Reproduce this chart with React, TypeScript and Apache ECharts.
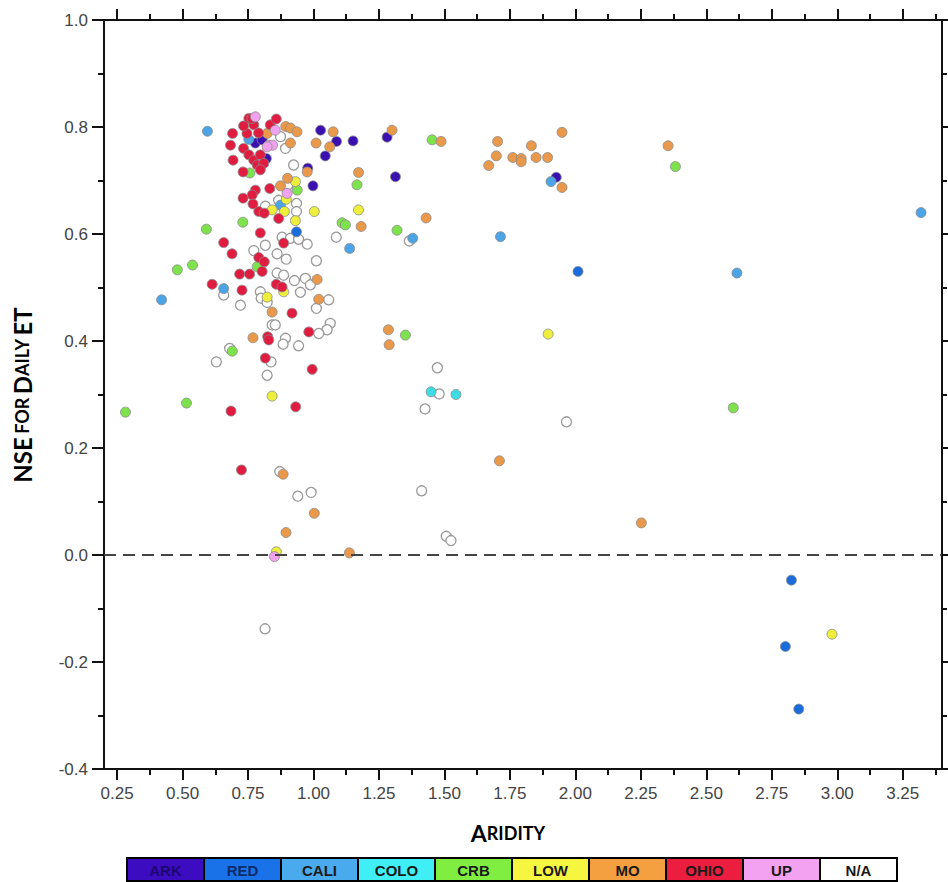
import React, { useEffect, useRef } from "react";
import * as echarts from "echarts";

const regions = ["ARK", "RED", "CALI", "COLO", "CRB", "LOW", "MO", "OHIO", "UP", "N/A"];
const regionColors = ["#3c0cc0", "#1a72e8", "#4aaaee", "#40eef6", "#80ee40", "#f6f640", "#f5a040", "#ec1e40", "#f2a2f0", "#ffffff"];
const pointColors = ["#3a10b0", "#1a6cdc", "#4aa4e6", "#40dce6", "#7ee24c", "#eeee3c", "#ea984a", "#e01c40", "#f0a2ee", "#ffffff"];

const xMajorTicks = [0.25, 0.5, 0.75, 1.0, 1.25, 1.5, 1.75, 2.0, 2.25, 2.5, 2.75, 3.0, 3.25];
const xMinorTicks = [0.375, 0.625, 0.875, 1.125, 1.375, 1.625, 1.875, 2.125, 2.375, 2.625, 2.875, 3.125, 3.375];

const arkData = [[1.027, 0.794], [1.088, 0.773], [1.151, 0.774], [1.045, 0.746], [0.978, 0.723], [0.998, 0.69], [1.281, 0.781], [1.313, 0.707], [1.927, 0.706], [0.778, 0.77], [0.804, 0.776], [0.82, 0.741]];
const redData = [[0.935, 0.604], [2.01, 0.53], [2.825, -0.047], [2.802, -0.171], [2.853, -0.288]];
const caliData = [[0.42, 0.477], [0.595, 0.792], [0.657, 0.498], [0.753, 0.777], [0.874, 0.654], [1.138, 0.573], [1.379, 0.592], [1.714, 0.595], [1.907, 0.698], [2.617, 0.527], [3.32, 0.64]];
const coloData = [[1.449, 0.305], [1.544, 0.3]];
const crbData = [[0.282, 0.267], [0.48, 0.533], [0.538, 0.542], [0.515, 0.284], [0.591, 0.609], [0.69, 0.381], [0.73, 0.622], [0.785, 0.539], [0.757, 0.714], [0.938, 0.682], [1.109, 0.621], [1.122, 0.617], [1.166, 0.692], [1.319, 0.607], [1.351, 0.411], [1.453, 0.776], [2.382, 0.726], [2.603, 0.275]];
const lowData = [[0.931, 0.698], [0.896, 0.665], [0.842, 0.645], [0.889, 0.642], [1.003, 0.642], [1.172, 0.645], [0.931, 0.625], [0.823, 0.482], [0.886, 0.492], [0.842, 0.297], [0.858, 0.006], [1.896, 0.413], [2.98, -0.148]];
const moData = [[0.894, 0.801], [0.912, 0.798], [0.937, 0.791], [0.912, 0.77], [0.823, 0.788], [1.075, 0.791], [1.01, 0.77], [1.062, 0.763], [0.976, 0.716], [1.172, 0.715], [0.901, 0.704], [0.874, 0.69], [1.182, 0.614], [1.3, 0.794], [1.43, 0.63], [1.487, 0.773], [1.703, 0.773], [1.698, 0.746], [1.669, 0.728], [1.761, 0.743], [1.793, 0.741], [1.793, 0.735], [1.832, 0.765], [1.85, 0.743], [1.894, 0.743], [1.949, 0.79], [1.949, 0.687], [2.354, 0.765], [1.71, 0.176], [2.252, 0.06], [0.884, 0.151], [1.003, 0.078], [0.895, 0.042], [1.137, 0.004], [1.286, 0.421], [1.289, 0.393], [1.014, 0.515], [1.02, 0.478], [0.842, 0.454], [0.769, 0.406]];
const ohioData = [[0.691, 0.788], [0.683, 0.766], [0.693, 0.738], [0.753, 0.816], [0.772, 0.804], [0.79, 0.789], [0.835, 0.804], [0.858, 0.815], [0.746, 0.788], [0.733, 0.76], [0.753, 0.748], [0.772, 0.738], [0.797, 0.748], [0.785, 0.729], [0.81, 0.732], [0.797, 0.72], [0.731, 0.716], [0.733, 0.802], [0.765, 0.816], [0.833, 0.685], [0.778, 0.682], [0.766, 0.673], [0.731, 0.667], [0.769, 0.656], [0.791, 0.642], [0.812, 0.639], [0.867, 0.629], [0.797, 0.602], [0.886, 0.583], [0.657, 0.584], [0.689, 0.563], [0.791, 0.556], [0.812, 0.548], [0.804, 0.53], [0.718, 0.525], [0.756, 0.525], [0.613, 0.506], [0.727, 0.495], [0.858, 0.506], [0.88, 0.501], [0.918, 0.452], [0.982, 0.417], [0.825, 0.408], [0.829, 0.402], [0.816, 0.368], [0.995, 0.347], [0.685, 0.269], [0.932, 0.277], [0.725, 0.159]];
const upData = [[0.778, 0.819], [0.854, 0.794], [0.829, 0.766], [0.844, 0.766], [0.823, 0.763], [0.899, 0.676], [0.851, -0.003]];
const naData = [[0.874, 0.782], [0.893, 0.76], [0.924, 0.729], [0.903, 0.692], [0.867, 0.663], [0.935, 0.657], [0.935, 0.642], [0.816, 0.652], [1.087, 0.594], [0.88, 0.594], [0.912, 0.592], [0.943, 0.59], [0.976, 0.581], [0.816, 0.579], [0.772, 0.569], [0.861, 0.563], [0.896, 0.553], [1.011, 0.55], [0.861, 0.527], [0.886, 0.523], [0.927, 0.513], [0.969, 0.517], [0.988, 0.505], [0.95, 0.491], [0.797, 0.492], [0.8, 0.48], [0.657, 0.486], [0.823, 0.472], [0.721, 0.467], [1.058, 0.477], [1.011, 0.461], [1.064, 0.433], [1.052, 0.421], [1.02, 0.414], [0.842, 0.43], [0.854, 0.43], [0.893, 0.405], [0.884, 0.394], [0.943, 0.391], [0.838, 0.361], [0.629, 0.361], [0.823, 0.336], [0.68, 0.386], [0.871, 0.156], [0.94, 0.11], [0.991, 0.117], [0.815, -0.138], [1.413, 0.12], [1.507, 0.035], [1.525, 0.027], [1.426, 0.273], [1.48, 0.301], [1.966, 0.249], [1.473, 0.35], [1.366, 0.587]];

const seriesData = [arkData, redData, caliData, coloData, crbData, lowData, moData, ohioData, upData, naData];

export default function App() {
  const ref = useRef<HTMLDivElement>(null);
  useEffect(() => {
    document.body.style.margin = "0";
    const chart = echarts.init(ref.current!, null, { renderer: "svg" });
    const black = "#111";
    const tickStyle = { color: black, width: 2 };
    const baseX = { type: "value", min: 0.2, max: 3.4, splitLine: { show: false } };
    const baseY = { type: "value", min: -0.4, max: 1.0, interval: 0.2, splitLine: { show: false } };

    const order = [9, 0, 1, 2, 3, 4, 5, 6, 7, 8];
    const series: any[] = order.map((i) => ({
      type: "scatter",
      name: regions[i],
      data: seriesData[i],
      xAxisIndex: 0,
      yAxisIndex: 0,
      symbol: "circle",
      symbolSize: 10,
      itemStyle: {
        color: pointColors[i],
        borderColor: i === 9 ? "#9a9a9a" : "#8a8a8a",
        borderWidth: i === 9 ? 1.3 : 0.8,
        opacity: 1,
      },
    }));
    series[0].markLine = {
      silent: true,
      symbol: "none",
      label: { show: false },
      lineStyle: { color: "#444", width: 2, type: [12, 7] },
      data: [{ yAxis: 0 }],
    };

    const legendEls: any[] = [];
    const bx = 127, bw = 77, by = 858, bh = 23;
    regions.forEach((r, i) => {
      legendEls.push({
        type: "rect",
        shape: { x: bx + i * bw, y: by, width: bw, height: bh },
        style: { fill: regionColors[i], stroke: "#000", lineWidth: 2 },
      });
      legendEls.push({
        type: "text",
        x: bx + i * bw + bw / 2,
        y: by + bh / 2 + 1,
        style: {
          text: r,
          fill: i === 0 ? "#1c0870" : i === 1 ? "#0c2c6c" : "#1a1a1a",
          font: 'bold 15px "Liberation Sans Narrow", "Liberation Sans", Arial',
          align: "center",
          verticalAlign: "middle",
        },
      });
    });

    const axisLineOn = { show: true, onZero: false, lineStyle: { color: black, width: 2 } };
    const axisLineOff = { show: false, onZero: false };

    chart.setOption({
      animation: false,
      backgroundColor: "#fff",
      grid: { left: 104, top: 20, width: 838, height: 749 },
      xAxis: [
        {
          ...baseX,
          position: "bottom",
          axisLine: axisLineOn,
          axisTick: { show: true, customValues: xMajorTicks, length: 11, lineStyle: tickStyle },
          axisLabel: {
            show: true,
            customValues: xMajorTicks,
            formatter: (v: number) => v.toFixed(2),
            margin: 16,
            fontSize: 17,
            color: "#444",
            fontFamily: '"Liberation Sans", Arial',
          },
        },
        {
          ...baseX,
          position: "bottom",
          axisLine: axisLineOff,
          axisTick: { show: true, customValues: xMinorTicks, length: 6, lineStyle: tickStyle },
          axisLabel: { show: false },
        },
        {
          ...baseX,
          position: "top",
          axisLine: axisLineOn,
          axisTick: { show: true, customValues: xMajorTicks, length: 11, lineStyle: tickStyle },
          axisLabel: { show: false },
        },
        {
          ...baseX,
          position: "top",
          axisLine: axisLineOff,
          axisTick: { show: true, customValues: xMinorTicks, length: 6, lineStyle: tickStyle },
          axisLabel: { show: false },
        },
      ],
      yAxis: [
        {
          ...baseY,
          position: "left",
          axisLine: axisLineOn,
          axisTick: { show: true, length: 12, lineStyle: tickStyle },
          minorTick: { show: true, splitNumber: 2, length: 6, lineStyle: tickStyle },
          axisLabel: {
            show: true,
            formatter: (v: number) => v.toFixed(1),
            margin: 16,
            fontSize: 17,
            color: "#444",
            fontFamily: '"Liberation Sans", Arial',
          },
        },
        {
          ...baseY,
          position: "right",
          axisLine: axisLineOn,
          axisTick: { show: true, length: 8, lineStyle: tickStyle },
          minorTick: { show: true, splitNumber: 2, length: 5, lineStyle: tickStyle },
          axisLabel: { show: false },
        },
      ],
      series,
      graphic: [
        {
          type: "text",
          x: 22,
          y: 395,
          rotation: Math.PI / 2,
          style: {
            text: "{b|NSE} {s|FOR} {b|D}{s|AILY} {b|ET}",
            align: "center",
            verticalAlign: "middle",
            fill: "#000",
            rich: {
              b: { fontSize: 24, fontWeight: "bold", fontFamily: "Lato", fill: "#000" },
              s: { fontSize: 18, fontWeight: "bold", fontFamily: "Lato", fill: "#000" },
            },
          },
        },
        {
          type: "text",
          x: 508,
          y: 833,
          style: {
            text: "{b|A}{s|RIDITY}",
            align: "center",
            verticalAlign: "middle",
            fill: "#000",
            rich: {
              b: { fontSize: 23, fontWeight: "bold", fontFamily: "Lato", fill: "#000" },
              s: { fontSize: 18, fontWeight: "bold", fontFamily: "Lato", fill: "#000" },
            },
          },
        },
        ...legendEls,
      ],
    });
    return () => chart.dispose();
  }, []);
  return <div ref={ref} style={{ width: 948, height: 882 }} />;
}
